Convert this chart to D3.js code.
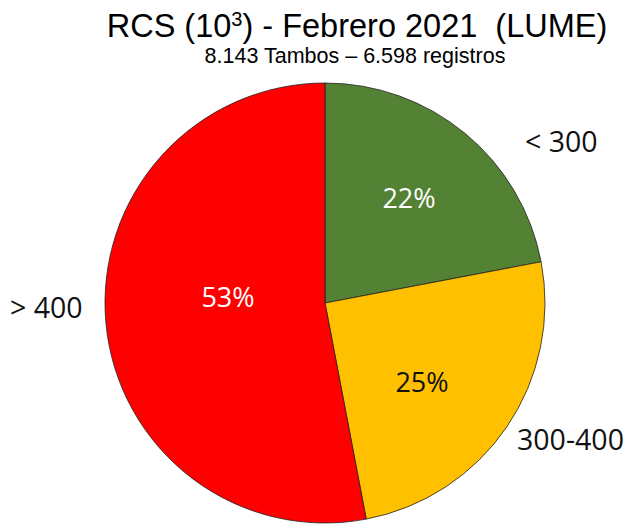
<!DOCTYPE html>
<html><head><meta charset="utf-8">
<script src="https://cdn.jsdelivr.net/npm/d3@7"></script>
<style>body{margin:0;background:#fff}</style>
</head><body>
<svg id="c" width="640" height="524"></svg>
<script>
const categories = ["< 300", "300-400", "> 400"];
const values = [22, 25, 53];
const colors = ["#548235", "#FFC000", "#FF0000"];
const pctLabels = ["22%", "25%", "53%"];
const pctColors = ["#fff", "#111", "#fff"];

const svg = d3.select("#c");
const cx = 325, cy = 303, r = 220;
const g = svg.append("g").attr("transform", `translate(${cx},${cy})`);
const pie = d3.pie().sort(null).value(d => d)(values);
const arc = d3.arc().innerRadius(0).outerRadius(r);
g.selectAll("path").data(pie).join("path")
  .attr("d", arc).attr("fill", (d,i) => colors[i])
  .attr("stroke", "#222").attr("stroke-width", 0.8);

const pctPos = [[409-cx, 208-cy], [422-cx, 392-cy], [228-cx, 307-cy]];
g.selectAll("text.pct").data(pie).join("text").attr("class","pct")
  .attr("x", (d,i) => pctPos[i][0]).attr("y", (d,i) => pctPos[i][1])
  .attr("text-anchor","middle")
  .attr("font-family","'Open Sans', sans-serif").attr("font-size",27)
  .attr("fill",(d,i)=>pctColors[i]).text((d,i) => pctLabels[i]);

const catPos = [[525, 152], [517, 450], [10, 318]];
svg.selectAll("text.cat").data(categories).join("text").attr("class","cat")
  .attr("x",(d,i)=>catPos[i][0]).attr("y",(d,i)=>catPos[i][1])
  .attr("font-family","'Open Sans', sans-serif").attr("font-size",28.5)
  .attr("fill","#111").text(d=>d);

const t = svg.append("text").attr("x",357).attr("y",37).attr("text-anchor","middle")
  .attr("font-family","'Liberation Sans', Arial, sans-serif").attr("font-size",32.5).attr("fill","#000");
t.append("tspan").text("RCS (10");
t.append("tspan").attr("font-size",20).attr("dy",-11).text("3");
t.append("tspan").attr("dy",11).text(")\u00a0-\u00a0Febrero\u00a02021\u00a0\u00a0(LUME)");
svg.append("text").attr("x",355).attr("y",63).attr("text-anchor","middle")
  .attr("font-family","'Liberation Sans', Arial, sans-serif").attr("font-size",21.5).attr("fill","#000")
  .text("8.143 Tambos \u2013 6.598 registros");
</script>
</body></html>
